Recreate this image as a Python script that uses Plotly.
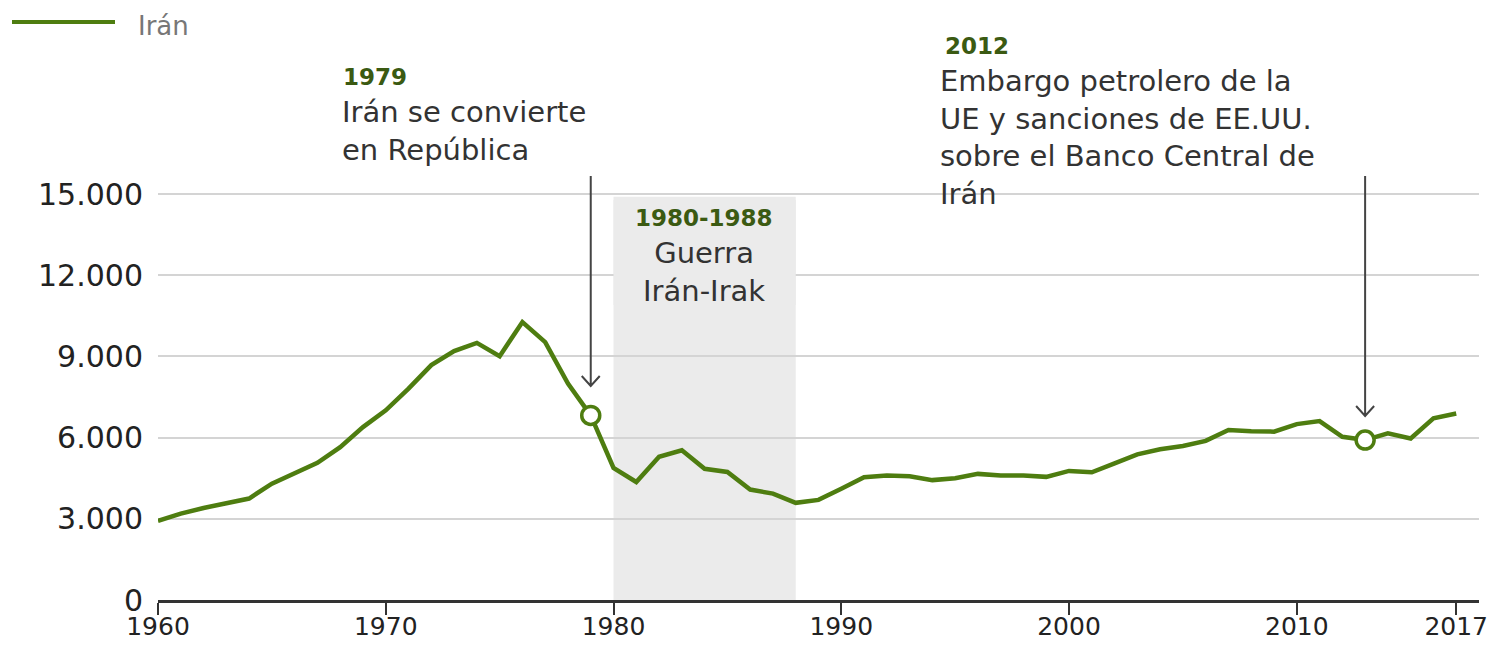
import plotly.graph_objects as go

# ---------------- data ----------------
years = list(range(1960, 2018))
values = [2920, 3190, 3400, 3580, 3750, 4300, 4690, 5070, 5650, 6390,
          7010, 7810, 8680, 9200, 9500, 9010, 10270, 9530, 8000, 6820,
          4880, 4360, 5290, 5530, 4850, 4730, 4080, 3930, 3590, 3700,
          4110, 4540, 4600, 4570, 4430, 4500, 4660, 4600, 4600, 4550,
          4770, 4720, 5050, 5380, 5570, 5690, 5880, 6280, 6240, 6220,
          6500, 6610, 6030, 5910, 6160, 5970, 6710, 6890]
series_name = "Irán"
x_tick_vals = [1960, 1970, 1980, 1990, 2000, 2010, 2017]
x_tick_text = ["1960", "1970", "1980", "1990", "2000", "2010", "2017"]
y_tick_vals = [0, 3000, 6000, 9000, 12000, 15000]
y_tick_text = ["0", "3.000", "6.000", "9.000", "12.000", "15.000"]
war_period = [1980, 1988]
event_years = [1979, 2013]
event_values = [values[years.index(y)] for y in event_years]

# ---------------- style / layout helpers ----------------
PAGE_W, PAGE_H = 1497, 649
OFF = 8                      # default page body margin
W, H = PAGE_W - 2 * OFF, PAGE_H - 2 * OFF
# plot area in page pixels
PL, PR, PT, PB = 158, 1479, 190, 600
L, R, T, B = PL - OFF, W - (PR - OFF), PT - OFF, H - (PB - OFF)
GREEN = "#4e7d10"
DARKGREEN = "#3b5a12"
TXT = "#333333"
FONT = "DejaVu Sans"


def px_x(p):
    return (p - PL) / (PR - PL)


def px_y(p):
    return (PB - p) / (PB - PT)


fig = go.Figure()

fig.add_trace(go.Scatter(
    x=years, y=values, mode="lines", name=series_name,
    line=dict(color=GREEN, width=4.5), showlegend=False,
))
fig.add_trace(go.Scatter(
    x=event_years, y=event_values, mode="markers", showlegend=False,
    marker=dict(symbol="circle", size=18, color="white",
                line=dict(color=GREEN, width=3.5)),
))

shapes = []
# shaded war period
shapes.append(dict(type="rect", xref="x", yref="y", x0=war_period[0], x1=war_period[1],
                   y0=0, y1=14900, fillcolor="#ebebeb", line=dict(width=0), layer="below"))
# label backing (hides gridline behind war label)
shapes.append(dict(type="rect", xref="x", yref="paper", x0=war_period[0], x1=war_period[1],
                   y0=px_y(305), y1=px_y(200), fillcolor="#ebebeb", line=dict(width=0), layer="above"))


def arrow(xv, top_px, tip_px):
    dx = 9 / 22.78
    yt, yp, yw = px_y(top_px), px_y(tip_px), px_y(tip_px - 10)
    path = (f"M {xv},{yt} L {xv},{yp} "
            f"M {xv - dx},{yw} L {xv},{yp} L {xv + dx},{yw}")
    return dict(type="path", xref="x", yref="paper", path=path,
                line=dict(color="#444444", width=2), layer="above")


shapes.append(arrow(event_years[0], 176, 386))
shapes.append(arrow(event_years[1], 176, 416))

# legend key
shapes.append(dict(type="line", xref="paper", yref="paper",
                   x0=px_x(12), x1=px_x(115), y0=px_y(22), y1=px_y(22),
                   line=dict(color=GREEN, width=4)))

annotations = []


def txt(text, xpx, ypx, size=29, color=TXT, xanchor="left", bold=False, align="left",
        yanchor="middle"):
    t = f"<b>{text}</b>" if bold else text
    annotations.append(dict(text=t, xref="paper", yref="paper", x=px_x(xpx), y=px_y(ypx),
                            xanchor=xanchor, yanchor=yanchor, showarrow=False, align=align,
                            font=dict(family=FONT, size=size, color=color)))


txt(series_name, 136, 9, size=26, color="#777777", yanchor="top")

txt("1979", 341, 77, size=23, color=DARKGREEN, bold=True)
txt("Irán se convierte<br>en República", 340, 131)

txt("1980-1988", 704, 218, size=23, color=DARKGREEN, bold=True, xanchor="center")
txt("Guerra<br>Irán-Irak", 704, 272, xanchor="center", align="center")

txt("2012", 943, 46, size=23, color=DARKGREEN, bold=True)
txt("Embargo petrolero de la<br>UE y sanciones de EE.UU.<br>"
    "sobre el Banco Central de<br>Irán", 938, 137)

fig.update_layout(
    width=W, height=H,
    margin=dict(l=L, r=R, t=T, b=B, autoexpand=False),
    paper_bgcolor="white", plot_bgcolor="white",
    shapes=shapes, annotations=annotations,
    showlegend=False,
    font=dict(family=FONT, color="#222222"),
    xaxis=dict(range=[1960, 2018], tickvals=x_tick_vals, ticktext=x_tick_text,
               automargin=False, ticklabeloverflow="allow",
               ticks="outside", ticklen=12, tickwidth=2, tickcolor="#333333",
               showline=True, linewidth=3, linecolor="#333333",
               showgrid=False, zeroline=False,
               ticklabelstandoff=-10,
               tickfont=dict(family=FONT, size=25, color="#222222")),
    yaxis=dict(range=[0, 15150], tickvals=y_tick_vals, ticktext=y_tick_text,
               automargin=False,
               showgrid=True, gridcolor="#d4d4d4", gridwidth=2,
               zeroline=False, showline=False, ticks="",
               ticklabelstandoff=14,
               tickfont=dict(family=FONT, size=30, color="#222222")),
)

fig.write_html("out.html")
